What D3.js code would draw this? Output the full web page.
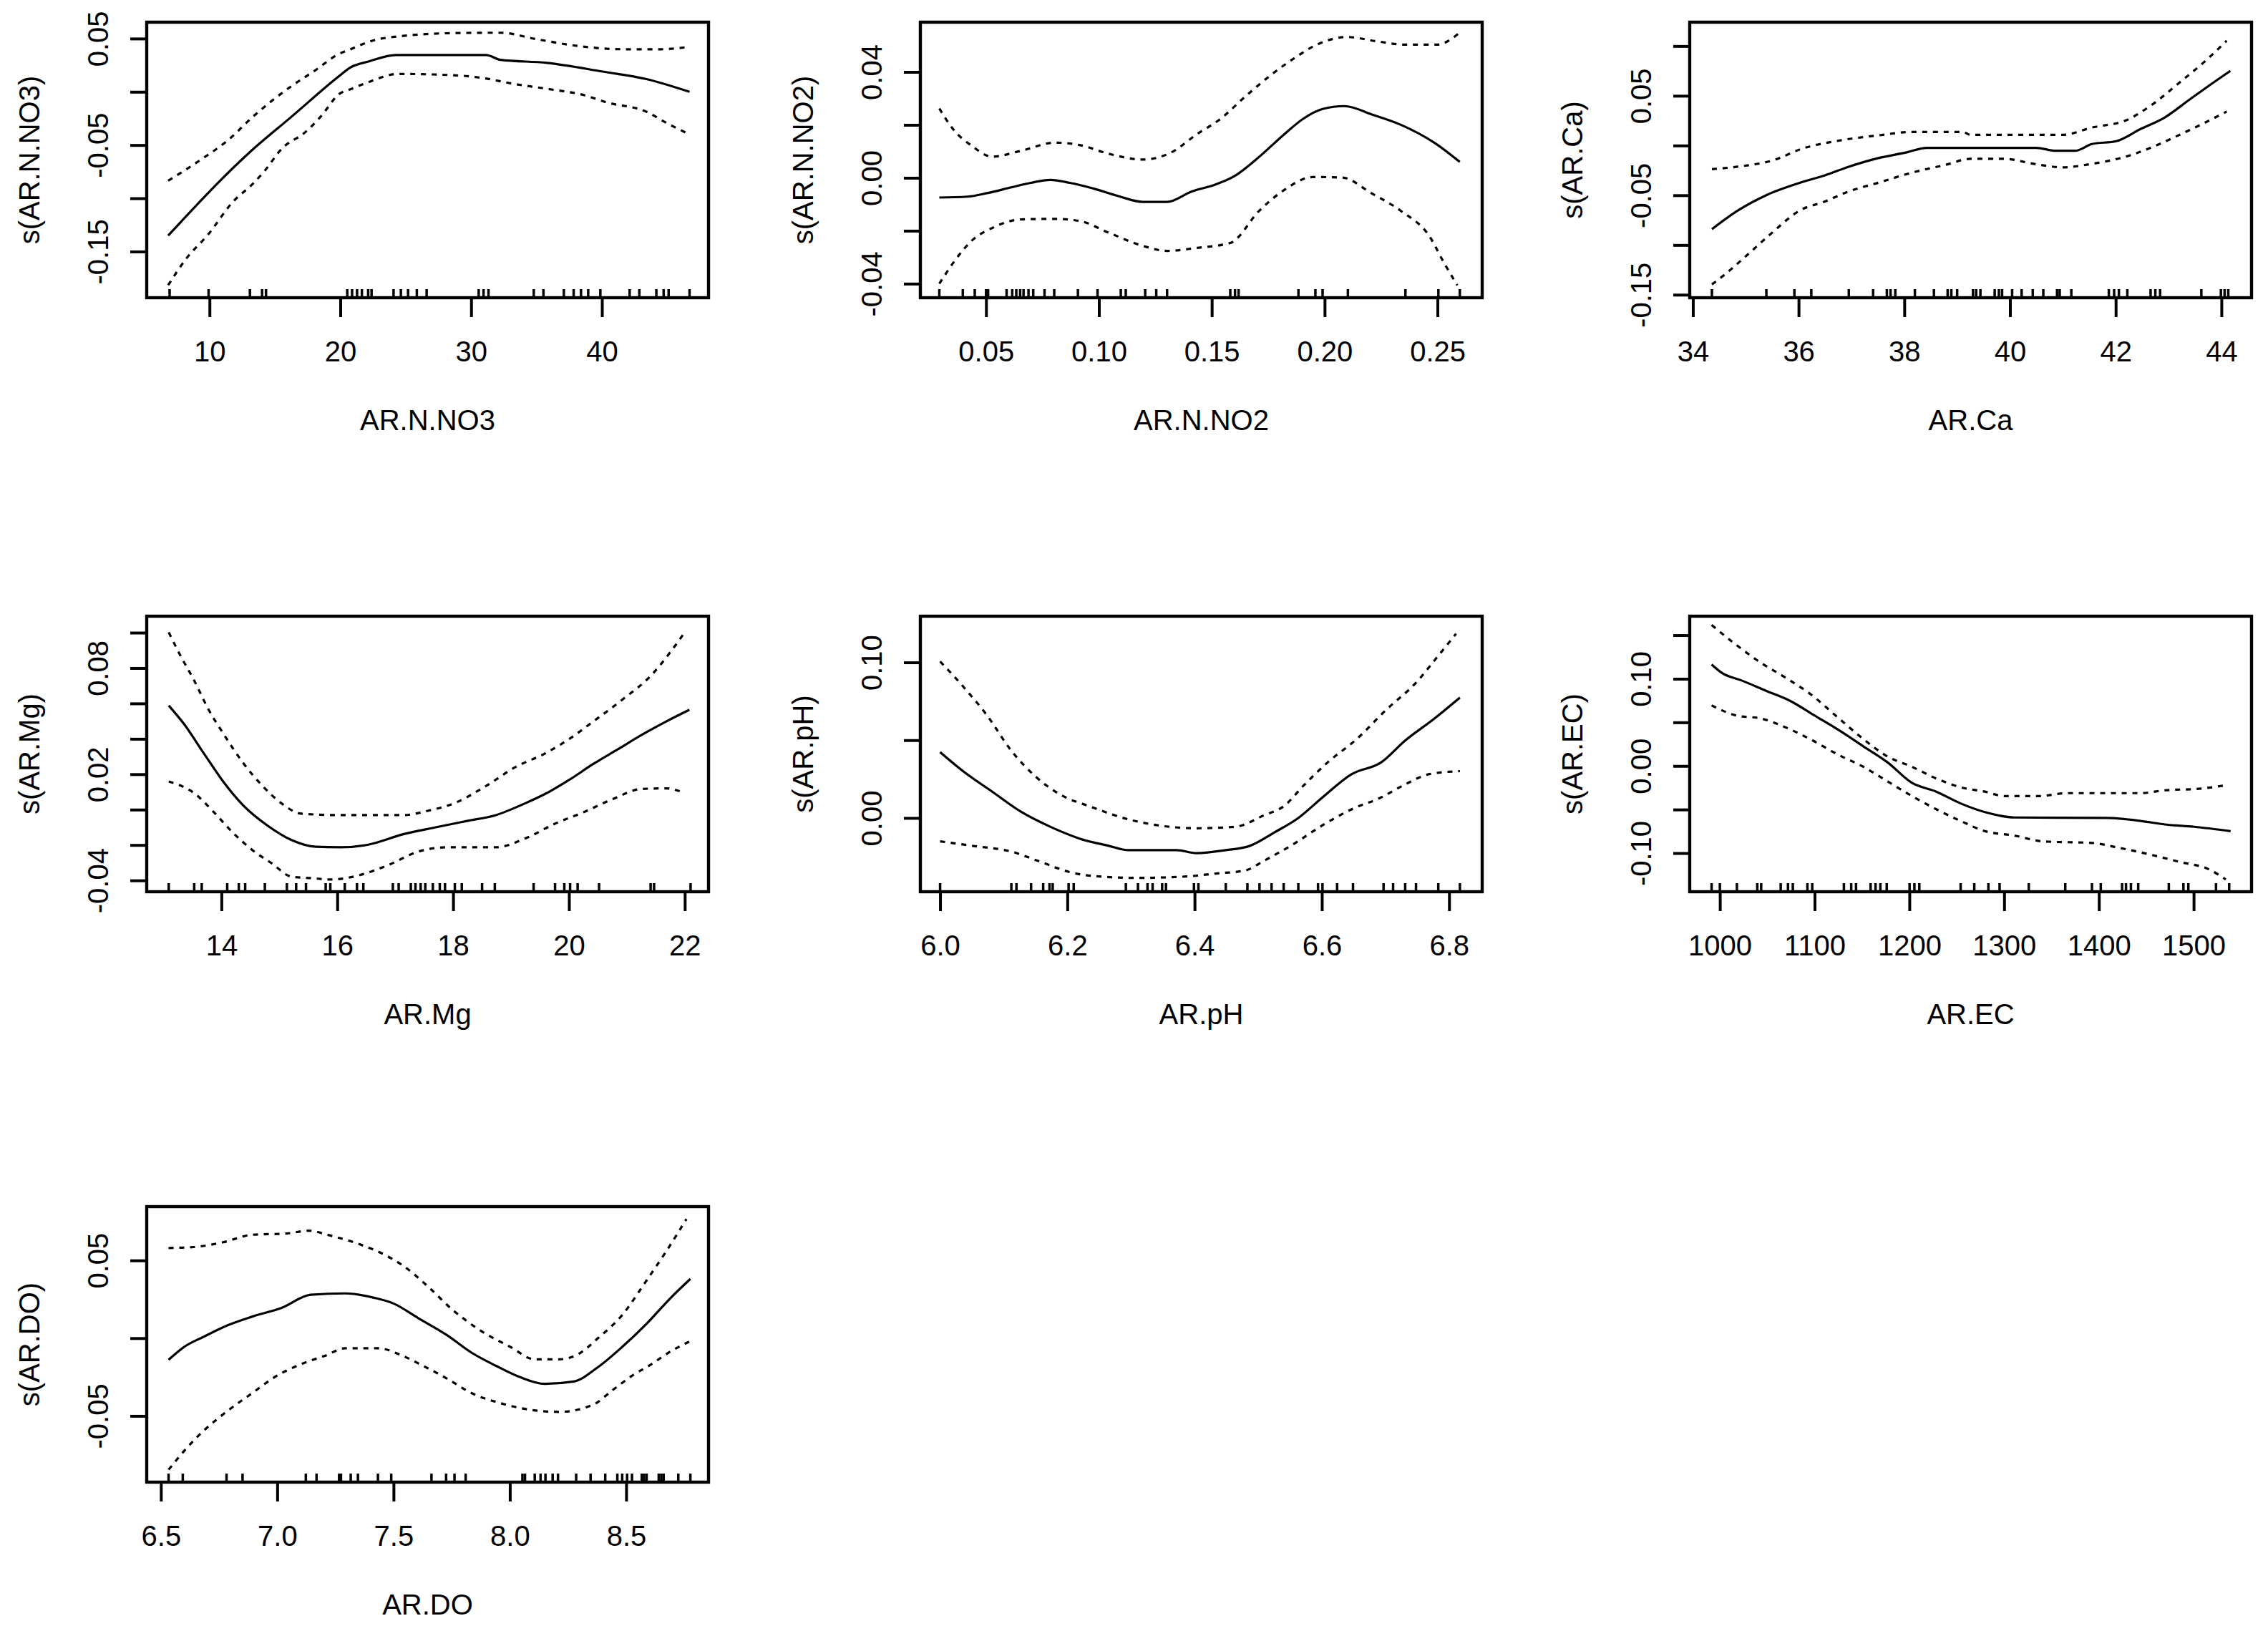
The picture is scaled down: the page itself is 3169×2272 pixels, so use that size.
<!DOCTYPE html>
<html><head><meta charset="utf-8">
<script src="https://cdn.jsdelivr.net/npm/d3@7"></script>
<style>body{margin:0;background:#fff}text{font-family:'Liberation Sans',Arial,sans-serif;fill:#000}</style>
</head><body><svg id="c"></svg>
<script>
// ---------- Panel 1: AR.N.NO3 ----------
const no3Fit = [[6.84,-0.135],[13.09,-0.0566],[16.25,-0.0236],[19.86,0.0143],[20.72,0.0225],[22.2,0.0286],[24.25,0.0346],[31.14,0.0346],[32.25,0.030],[35.8,0.0272],[40.07,0.019],[43.4,0.012],[46.7,0.000]];
const no3Upper = [[6.84,-0.0835],[9.55,-0.062],[11.4,-0.0456],[13.3,-0.0236],[14.76,-0.0085],[16.25,0.0052],[18.1,0.0203],[19.86,0.0354],[20.7,0.0396],[22.4,0.0478],[24.8,0.0525],[28.9,0.0552],[32.25,0.0555],[34.9,0.0497],[38.2,0.043],[41.56,0.040],[44.5,0.040],[46.7,0.0423]];
const no3Lower = [[6.84,-0.1816],[8.2,-0.157],[9.93,-0.1335],[11.79,-0.1033],[13.28,-0.0868],[14.2,-0.0745],[15.5,-0.0538],[17.37,-0.0374],[18.48,-0.0236],[19.97,-0.0016],[20.7,0.002],[22.2,0.0093],[24.4,0.0168],[28.9,0.0154],[31.1,0.0126],[33,0.008],[35.98,0.0025],[38.6,-0.003],[40.4,-0.01],[43.4,-0.0187],[44.9,-0.029],[46.7,-0.040]];
const no3Rug = [6.95,9.93,13.09,14.02,14.32,20.53,20.9,21.28,21.65,22.13,22.39,24.07,24.63,25.18,25.85,26.6,30.58,30.95,31.33,34.79,35.53,37.09,37.84,38.4,38.95,39.88,42.12,42.86,44.16,44.72,45.1,46.7];
const no3Xlim = [5.2,48.15], no3Ylim = [-0.1934,0.0654];
const no3XTicks = [10,20,30,40], no3XLabels = ["10","20","30","40"];
const no3YTicks = [-0.15,-0.10,-0.05,0,0.05], no3YLabels = ["-0.15","","-0.05","","0.05"];

// ---------- Panel 2: AR.N.NO2 ----------
const no2Fit = [[0.0293,-0.00745],[0.0418,-0.0071],[0.0504,-0.0058],[0.0612,-0.0036],[0.0698,-0.0019],[0.0784,-0.0008],[0.0871,-0.0019],[0.0978,-0.0041],[0.1086,-0.0069],[0.1194,-0.0091],[0.1302,-0.0091],[0.141,-0.0052],[0.1517,-0.0025],[0.1603,0.0008],[0.1711,0.008],[0.1819,0.0163],[0.1905,0.0223],[0.1991,0.026],[0.2088,0.0271],[0.2207,0.024],[0.2336,0.0201],[0.2487,0.0132],[0.2599,0.006]];
const no2Upper = [[0.0293,0.0262],[0.0353,0.0185],[0.044,0.0119],[0.0526,0.008],[0.0655,0.0102],[0.0806,0.0133],[0.0914,0.0124],[0.1043,0.0091],[0.1194,0.0069],[0.1323,0.0097],[0.1431,0.0163],[0.1539,0.0223],[0.1647,0.0306],[0.1754,0.0383],[0.1862,0.045],[0.197,0.0505],[0.21,0.0532],[0.2229,0.0516],[0.2358,0.0503],[0.2498,0.0503],[0.2599,0.0549]];
const no2Lower = [[0.0293,-0.040],[0.0353,-0.0323],[0.044,-0.0235],[0.0526,-0.019],[0.0655,-0.0157],[0.0806,-0.0155],[0.0914,-0.0163],[0.1043,-0.0207],[0.1194,-0.0257],[0.1302,-0.0276],[0.1431,-0.0265],[0.1582,-0.0246],[0.1711,-0.0124],[0.1819,-0.0047],[0.1948,0.0003],[0.2078,0.0001],[0.2207,-0.0058],[0.2336,-0.0124],[0.2466,-0.0223],[0.253,-0.0323],[0.2588,-0.0406]];
const no2Rug = [0.0293,0.0397,0.045,0.05,0.0509,0.0591,0.0616,0.0634,0.0651,0.0666,0.0688,0.0709,0.0759,0.0802,0.0907,0.0994,0.1097,0.1119,0.1205,0.1254,0.1302,0.1582,0.1603,0.1619,0.1884,0.1959,0.1991,0.2103,0.2358,0.2504,0.2599];
const no2Xlim = [0.0209,0.2698], no2Ylim = [-0.0453,0.0588];
const no2XTicks = [0.05,0.10,0.15,0.20,0.25], no2XLabels = ["0.05","0.10","0.15","0.20","0.25"];
const no2YTicks = [-0.04,-0.02,0,0.02,0.04], no2YLabels = ["-0.04","","0.00","","0.04"];

// ---------- Panel 3: AR.Ca ----------
const caFit = [[34.36,-0.0841],[34.84,-0.0657],[35.39,-0.0499],[36.03,-0.0374],[36.49,-0.0301],[36.95,-0.0213],[37.51,-0.0126],[38.06,-0.0067],[38.42,-0.0023],[40.5,-0.0023],[40.86,-0.0053],[41.23,-0.0053],[41.55,0.0015],[42.01,0.0044],[42.47,0.0166],[42.93,0.0283],[43.39,0.0459],[43.85,0.0634],[44.17,0.0751]];
const caUpper = [[34.36,-0.0237],[34.84,-0.0213],[35.57,-0.014],[36.03,-0.0038],[36.77,0.005],[37.51,0.0102],[38.15,0.0137],[39.11,0.0137],[39.25,0.0108],[41.0,0.0108],[41.55,0.0181],[42.2,0.0254],[42.66,0.040],[43.21,0.0634],[43.67,0.0838],[44.1,0.1053]];
const caLower = [[34.36,-0.1396],[34.61,-0.1294],[35.02,-0.1104],[35.48,-0.0885],[36.03,-0.0651],[36.49,-0.0564],[36.95,-0.0461],[37.51,-0.0374],[38.15,-0.0272],[38.79,-0.0193],[39.25,-0.0134],[39.9,-0.0134],[40.45,-0.0184],[41.0,-0.0219],[41.55,-0.0184],[42.29,-0.0096],[42.66,-0.0023],[43.21,0.0108],[43.67,0.0225],[44.1,0.0342]];
const caRug = [34.36,35.39,35.92,36.24,36.95,37.41,37.67,37.74,37.83,38.2,38.56,38.82,38.89,39.0,39.3,39.36,39.44,39.71,39.79,39.85,40.04,40.22,40.43,40.63,40.89,40.94,41.16,41.87,41.97,42.06,42.22,42.66,42.75,42.84,43.62,43.99,44.06,44.13];
const caXlim = [33.94,44.57], caYlim = [-0.153,0.124];
const caXTicks = [34,36,38,40,42,44], caXLabels = ["34","36","38","40","42","44"];
const caYTicks = [-0.15,-0.10,-0.05,0,0.05,0.10], caYLabels = ["-0.15","","-0.05","","0.05",""];

// ---------- Panel 4: AR.Mg ----------
const mgFit = [[13.09,0.0588],[13.36,0.0481],[13.7,0.0316],[14.03,0.0159],[14.37,0.0026],[14.79,-0.0089],[15.21,-0.0172],[15.63,-0.021],[16.05,-0.0213],[16.55,-0.0197],[17.14,-0.0139],[17.73,-0.0098],[18.24,-0.0064],[18.74,-0.0031],[19.24,0.0035],[19.66,0.0101],[20.0,0.0167],[20.42,0.0258],[20.84,0.034],[21.26,0.0423],[21.68,0.0498],[22.08,0.0564]];
const mgUpper = [[13.09,0.1002],[13.28,0.0878],[13.53,0.0729],[13.78,0.0564],[14.03,0.0431],[14.37,0.0266],[14.71,0.0134],[15.04,0.0035],[15.38,-0.0023],[16.05,-0.0031],[17.14,-0.0031],[17.56,-0.0007],[18.07,0.0043],[18.57,0.0134],[19.08,0.0241],[19.58,0.0316],[20.0,0.0398],[20.42,0.0498],[20.92,0.0621],[21.43,0.0762],[21.76,0.0894],[22.0,0.1002]];
const mgLower = [[13.09,0.0159],[13.53,0.0093],[13.87,-0.0015],[14.2,-0.0131],[14.54,-0.023],[14.87,-0.0304],[15.21,-0.0379],[15.55,-0.0387],[15.88,-0.0395],[16.39,-0.037],[16.89,-0.0312],[17.39,-0.0238],[17.9,-0.0213],[18.74,-0.0213],[19.24,-0.0164],[19.75,-0.0081],[20.25,-0.0015],[20.76,0.006],[21.26,0.0117],[21.68,0.012],[22.0,0.0093]];
const mgRug = [13.09,13.53,13.66,14.1,14.3,14.41,14.75,15.13,15.29,15.46,15.8,15.88,16.13,16.34,16.45,16.96,17.06,17.27,17.35,17.44,17.52,17.65,17.77,17.86,18.03,18.15,18.5,18.72,19.39,19.76,19.92,20.02,20.15,20.52,21.41,21.47,22.1];
const mgXlim = [12.71,22.41], mgYlim = [-0.0464,0.1093];
const mgXTicks = [14,16,18,20,22], mgXLabels = ["14","16","18","20","22"];
const mgYTicks = [-0.04,-0.02,0,0.02,0.04,0.06,0.08,0.10], mgYLabels = ["-0.04","","","0.02","","","0.08",""];

// ---------- Panel 5: AR.pH ----------
const phFit = [[6.0,0.0423],[6.036,0.0301],[6.082,0.0169],[6.128,0.0038],[6.173,-0.0056],[6.219,-0.0132],[6.265,-0.0179],[6.296,-0.0207],[6.372,-0.0207],[6.403,-0.0226],[6.449,-0.0207],[6.487,-0.0179],[6.525,-0.0094],[6.563,0.0],[6.601,0.0132],[6.647,0.0282],[6.693,0.0357],[6.731,0.0498],[6.777,0.0639],[6.817,0.0774]];
const phUpper = [[6.0,0.1006],[6.036,0.0846],[6.074,0.0658],[6.112,0.0432],[6.151,0.0263],[6.189,0.015],[6.235,0.0075],[6.296,-0.0009],[6.342,-0.0047],[6.403,-0.0066],[6.464,-0.0056],[6.51,0.0019],[6.54,0.0075],[6.571,0.0207],[6.609,0.0357],[6.655,0.0508],[6.701,0.0695],[6.747,0.0865],[6.785,0.1053],[6.811,0.1184]];
const phLower = [[6.0,-0.015],[6.051,-0.0179],[6.112,-0.0216],[6.158,-0.0282],[6.204,-0.0348],[6.25,-0.0376],[6.311,-0.0385],[6.387,-0.0376],[6.433,-0.0357],[6.479,-0.0338],[6.51,-0.0273],[6.555,-0.0169],[6.601,-0.0047],[6.647,0.0056],[6.693,0.0132],[6.731,0.0216],[6.769,0.0282],[6.817,0.0301]];
const phRug = [6.0,6.112,6.12,6.143,6.162,6.172,6.177,6.202,6.21,6.292,6.311,6.326,6.334,6.349,6.355,6.399,6.406,6.449,6.483,6.502,6.521,6.54,6.563,6.594,6.601,6.624,6.649,6.697,6.712,6.731,6.748,6.783,6.817];
const phXlim = [5.969,6.852], phYlim = [-0.0474,0.1297];
const phXTicks = [6.0,6.2,6.4,6.6,6.8], phXLabels = ["6.0","6.2","6.4","6.6","6.8"];
const phYTicks = [0,0.05,0.10], phYLabels = ["0.00","","0.10"];

// ---------- Panel 6: AR.EC ----------
const ecFit = [[991.3,0.1164],[1002.6,0.1064],[1023.1,0.098],[1048.8,0.0862],[1074.4,0.0745],[1100.1,0.0577],[1125.8,0.0409],[1151.4,0.0225],[1177.1,0.004],[1202.8,-0.0195],[1228.4,-0.0295],[1254.1,-0.043],[1279.8,-0.053],[1310.6,-0.0591],[1408.1,-0.0597],[1444.0,-0.0631],[1469.7,-0.0671],[1500.5,-0.0698],[1539.0,-0.0748]];
const ecUpper = [[991.3,0.1617],[1018,0.1383],[1043.6,0.1181],[1069.3,0.1013],[1095,0.0829],[1125.8,0.0544],[1151.4,0.0309],[1177.1,0.0107],[1202.8,-0.001],[1228.4,-0.0144],[1254.1,-0.0245],[1279.8,-0.0295],[1300.3,-0.0346],[1336.2,-0.0346],[1367,-0.0312],[1444,-0.0312],[1469.7,-0.0279],[1505.6,-0.0262],[1536.4,-0.0218]];
const ecLower = [[991.3,0.0695],[1018,0.0577],[1043.6,0.0544],[1069.3,0.0443],[1095,0.0309],[1125.8,0.0124],[1151.4,-0.001],[1177.1,-0.0178],[1202.8,-0.0346],[1228.4,-0.0497],[1254.1,-0.0631],[1279.8,-0.0748],[1310.6,-0.0799],[1341.4,-0.0866],[1392.7,-0.0883],[1418.4,-0.0933],[1454.3,-0.1017],[1485.1,-0.1101],[1515.9,-0.1185],[1533.9,-0.1302]];
const ecRug = [991.3,1000,1018,1039.5,1043.6,1064.2,1071.9,1077,1092.4,1097.5,1130.9,1138.6,1143.7,1159.1,1164.3,1169.4,1176.1,1200.2,1205.3,1210.5,1254.1,1268.5,1283.4,1295.2,1326,1364.5,1392.7,1402,1424.5,1428.6,1433.8,1441.5,1473.8,1489.2,1494.4,1523.6,1537.5];
const ecXlim = [968.2,1561.1], ecYlim = [-0.1443,0.1718];
const ecXTicks = [1000,1100,1200,1300,1400,1500], ecXLabels = ["1000","1100","1200","1300","1400","1500"];
const ecYTicks = [-0.10,-0.05,0,0.05,0.10,0.15], ecYLabels = ["-0.10","","0.00","","0.10",""];

// ---------- Panel 7: AR.DO ----------
const doFit = [[6.533,-0.0139],[6.6,-0.0056],[6.684,0.0009],[6.789,0.0084],[6.893,0.0139],[7.019,0.0195],[7.144,0.0279],[7.291,0.0288],[7.416,0.026],[7.5,0.0223],[7.605,0.013],[7.73,0.0019],[7.835,-0.0093],[7.939,-0.0177],[8.044,-0.0251],[8.149,-0.0294],[8.274,-0.0279],[8.379,-0.0186],[8.483,-0.0056],[8.588,0.0093],[8.692,0.026],[8.776,0.0381]];
const doUpper = [[6.533,0.058],[6.642,0.0586],[6.768,0.0617],[6.893,0.0665],[7.04,0.0673],[7.134,0.0691],[7.228,0.066],[7.354,0.0604],[7.458,0.0539],[7.542,0.0465],[7.646,0.0335],[7.751,0.0186],[7.877,0.0046],[8.002,-0.0056],[8.107,-0.0136],[8.211,-0.0136],[8.295,-0.0102],[8.379,0.0],[8.483,0.0149],[8.588,0.0372],[8.672,0.0558],[8.759,0.0766]];
const doLower = [[6.533,-0.0846],[6.6,-0.0725],[6.684,-0.0595],[6.789,-0.0465],[6.893,-0.0353],[6.998,-0.0242],[7.103,-0.0167],[7.207,-0.0112],[7.291,-0.0065],[7.437,-0.0065],[7.521,-0.0102],[7.626,-0.0177],[7.73,-0.026],[7.835,-0.0353],[7.96,-0.0418],[8.065,-0.0455],[8.211,-0.0474],[8.358,-0.0428],[8.441,-0.0335],[8.525,-0.0242],[8.609,-0.0167],[8.692,-0.0084],[8.776,-0.0019]];
const doRug = [6.533,6.594,6.782,6.851,7.123,7.169,7.266,7.274,7.316,7.347,7.433,7.49,7.663,7.726,7.762,7.81,8.054,8.065,8.107,8.132,8.153,8.184,8.207,8.285,8.347,8.41,8.462,8.483,8.504,8.525,8.567,8.577,8.588,8.64,8.651,8.661,8.724,8.776];
const doXlim = [6.439,8.854], doYlim = [-0.0926,0.0846];
const doXTicks = [6.5,7.0,7.5,8.0,8.5], doXLabels = ["6.5","7.0","7.5","8.0","8.5"];
const doYTicks = [-0.05,0,0.05], doYLabels = ["-0.05","","0.05"];

const xTitles = ["AR.N.NO3","AR.N.NO2","AR.Ca","AR.Mg","AR.pH","AR.EC","AR.DO"];
const yTitles = ["s(AR.N.NO3)","s(AR.N.NO2)","s(AR.Ca)","s(AR.Mg)","s(AR.pH)","s(AR.EC)","s(AR.DO)"];

// table built from the arrays above
const panels = [
  {fit:no3Fit,up:no3Upper,lo:no3Lower,rug:no3Rug,xlim:no3Xlim,ylim:no3Ylim,xt:no3XTicks,xl:no3XLabels,yt:no3YTicks,yl:no3YLabels},
  {fit:no2Fit,up:no2Upper,lo:no2Lower,rug:no2Rug,xlim:no2Xlim,ylim:no2Ylim,xt:no2XTicks,xl:no2XLabels,yt:no2YTicks,yl:no2YLabels},
  {fit:caFit,up:caUpper,lo:caLower,rug:caRug,xlim:caXlim,ylim:caYlim,xt:caXTicks,xl:caXLabels,yt:caYTicks,yl:caYLabels},
  {fit:mgFit,up:mgUpper,lo:mgLower,rug:mgRug,xlim:mgXlim,ylim:mgYlim,xt:mgXTicks,xl:mgXLabels,yt:mgYTicks,yl:mgYLabels},
  {fit:phFit,up:phUpper,lo:phLower,rug:phRug,xlim:phXlim,ylim:phYlim,xt:phXTicks,xl:phXLabels,yt:phYTicks,yl:phYLabels},
  {fit:ecFit,up:ecUpper,lo:ecLower,rug:ecRug,xlim:ecXlim,ylim:ecYlim,xt:ecXTicks,xl:ecXLabels,yt:ecYTicks,yl:ecYLabels},
  {fit:doFit,up:doUpper,lo:doLower,rug:doRug,xlim:doXlim,ylim:doYlim,xt:doXTicks,xl:doXLabels,yt:doYTicks,yl:doYLabels}
];

// ---------- layout ----------
const W = 3169, H = 2272;
const colL = [205, 1286, 2361], rowT = [31, 861, 1686];
const BW = 785, BH = 385;
const FS = 40;

const svg = d3.select('#c').attr('width', W).attr('height', H);
svg.append('rect').attr('width', W).attr('height', H).attr('fill', '#fff');

panels.forEach((p, i) => {
  const left = colL[i % 3], top = rowT[Math.floor(i / 3)];
  const bottom = top + BH;
  const x = d3.scaleLinear().domain(p.xlim).range([left, left + BW]);
  const y = d3.scaleLinear().domain(p.ylim).range([bottom, top]);
  const g = svg.append('g');

  const cid = 'clip' + i;
  g.append('clipPath').attr('id', cid).append('rect')
    .attr('x', left).attr('y', top).attr('width', BW).attr('height', BH);

  const line = d3.line().x(d => x(d[0])).y(d => y(d[1])).curve(d3.curveMonotoneX);
  const cg = g.append('g').attr('clip-path', `url(#${cid})`);
  cg.append('path').datum(p.fit).attr('d', line)
    .attr('fill', 'none').attr('stroke', '#000').attr('stroke-width', 3.2);
  [p.up, p.lo].forEach(band => {
    cg.append('path').datum(band).attr('d', line)
      .attr('fill', 'none').attr('stroke', '#000').attr('stroke-width', 3.2)
      .attr('stroke-dasharray', '7,8');
  });

  // rug
  g.append('g').selectAll('line').data(p.rug).join('line')
    .attr('x1', d => x(d)).attr('x2', d => x(d))
    .attr('y1', bottom).attr('y2', bottom - 12)
    .attr('stroke', '#000').attr('stroke-width', 3.5);

  // x axis
  const xa = g.append('g').attr('transform', `translate(0,${bottom})`)
    .call(d3.axisBottom(x).tickValues(p.xt).tickFormat((d, j) => p.xl[j]).tickSizeInner(27).tickSizeOuter(0));
  xa.select('.domain').remove();
  xa.selectAll('line').attr('stroke', '#000').attr('stroke-width', 4);
  xa.selectAll('text').attr('y', 89).attr('dy', null)
    .style('font-size', FS + 'px').attr('fill', '#000');

  // y axis
  const ya = g.append('g').attr('transform', `translate(${left},0)`)
    .call(d3.axisLeft(y).tickValues(p.yt).tickFormat((d, j) => p.yl[j]).tickSizeInner(23).tickSizeOuter(0));
  ya.select('.domain').remove();
  ya.selectAll('line').attr('stroke', '#000').attr('stroke-width', 4);
  ya.selectAll('text').attr('x', null).attr('dy', null)
    .attr('transform', 'translate(-54,0) rotate(-90)')
    .attr('text-anchor', 'middle')
    .style('font-size', FS + 'px').attr('fill', '#000');

  // box
  g.append('rect').attr('x', left).attr('y', top).attr('width', BW).attr('height', BH)
    .attr('fill', 'none').attr('stroke', '#000').attr('stroke-width', 4.4);

  // titles
  g.append('text').attr('x', left + BW / 2).attr('y', bottom + 185)
    .attr('text-anchor', 'middle').style('font-size', FS + 'px').text(xTitles[i]);
  g.append('text')
    .attr('transform', `translate(${left - 150},${top + BH / 2}) rotate(-90)`)
    .attr('text-anchor', 'middle').style('font-size', FS + 'px').text(yTitles[i]);
});
</script>
</body></html>
